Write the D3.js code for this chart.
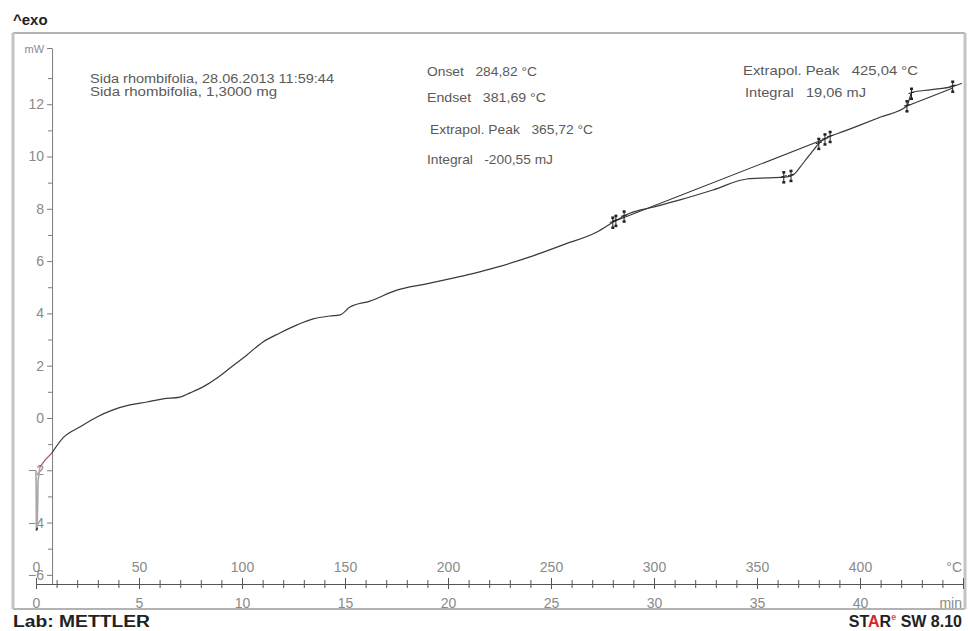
<!DOCTYPE html>
<html>
<head>
<meta charset="utf-8">
<script src="https://cdn.jsdelivr.net/npm/d3@7/dist/d3.min.js"></script>
<style>
  html, body { margin: 0; padding: 0; background: #fff; }
  svg { display: block; font-family: "Liberation Sans", Arial, sans-serif; }
  svg text { white-space: pre; }
</style>
</head>
<body>
<svg id="chart" width="968" height="631"></svg>
<script>
// DSC heat-flow curve (exo up), time in min, heat flow in mW
const timeMin = [0.76, 1.31, 2.14, 2.96, 3.74, 4.56, 5.39, 6.17, 6.99, 7.48, 8.11, 8.79, 9.42,
  10.24, 11.02, 11.84, 12.67, 13.45, 14.27, 14.76, 15.24, 16.21, 17.52, 18.9, 20.24, 21.3,
  22.38, 23.98, 25.58, 27.23, 28.11, 28.83, 30.0, 31.26, 32.86, 34.51, 35.49, 36.46, 36.75,
  37.1, 37.43, 37.75, 38.06, 38.4, 39.2, 40.0, 41.0, 42.28, 42.4, 42.52, 43.4, 44.51, 44.95];
const powerMW = [-1.35, -0.76, -0.34, 0.04, 0.31, 0.50, 0.61, 0.73, 0.80, 0.96, 1.19, 1.53, 1.91,
  2.41, 2.91, 3.25, 3.56, 3.79, 3.90, 3.94, 4.24, 4.47, 4.89, 5.12, 5.35, 5.54,
  5.77, 6.16, 6.62, 7.11, 7.53, 7.83, 8.07, 8.34, 8.72, 9.14, 9.18, 9.22, 9.29,
  9.60, 9.94, 10.25, 10.55, 10.71, 10.96, 11.20, 11.51, 11.93, 12.20, 12.45, 12.55, 12.68, 12.80];

// start-up transient at the beginning of the run
const startTime = [0, 0.02, 0.06, 0.1, 0.19, 0.45, 0.76];
const startPower = [-2.0, -4.3, -4.2, -2.4, -1.87, -1.6, -1.35];

// integration baselines of the two evaluated effects
const baseline1Time = [28.11, 38.16];
const baseline1Power = [7.53, 10.63];
const baseline2Time = [42.28, 44.51];
const baseline2Power = [11.93, 12.62];

// evaluation limit markers (min)
const markerTimes = [28.0, 28.15, 28.55, 36.3, 36.65, 38.0, 38.3, 38.55, 42.28, 42.5, 44.5];

// axis ticks
const yTicks = [-6, -5, -4, -3, -2, -1, 0, 1, 2, 3, 4, 5, 6, 7, 8, 9, 10, 11, 12, 13];
const yLabelTicks = [-6, -4, -2, 0, 2, 4, 6, 8, 10, 12];
const yUnit = "mW";
const tempTicks = d3.range(0, 451, 10);
const tempLabels = [0, 50, 100, 150, 200, 250, 300, 350, 400];
const tempUnit = "°C";
const timeTicks = d3.range(0, 46, 1);
const timeLabels = [0, 5, 10, 15, 20, 25, 30, 35, 40];
const timeUnit = "min";
const heatingRate = 10; // K/min, temperature axis = heatingRate * time

// evaluation texts
const sampleLines = ["Sida rhombifolia, 28.06.2013 11:59:44", "Sida rhombifolia, 1,3000 mg"];
const effect1Lines = ["Onset   284,82 °C", "Endset   381,69 °C", "Extrapol. Peak   365,72 °C", "Integral   -200,55 mJ"];
const effect2Lines = ["Extrapol. Peak   425,04 °C", "Integral   19,06 mJ"];

const svg = d3.select("#chart");

const x = d3.scaleLinear().domain([0, 45]).range([36, 963]);
const xTemp = d3.scaleLinear().domain([0, 45 * heatingRate]).range([36, 963]);
const y = d3.scaleLinear().domain([-6.35, 14.15]).range([584, 48]);
const axisY0 = y.domain()[0];
const axisX0 = x(0.78);

// frame
svg.append("line").attr("x1", 13).attr("x2", 965).attr("y1", 33).attr("y2", 33)
  .attr("stroke", "#9a9a9a").attr("stroke-width", 1.5);
svg.append("line").attr("x1", 13).attr("x2", 965).attr("y1", 609).attr("y2", 609)
  .attr("stroke", "#9a9a9a").attr("stroke-width", 1.5);
svg.append("line").attr("x1", 13).attr("x2", 13).attr("y1", 33).attr("y2", 609)
  .attr("stroke", "#c4c4c4").attr("stroke-width", 3);
svg.append("line").attr("x1", 965).attr("x2", 965).attr("y1", 33).attr("y2", 609)
  .attr("stroke", "#c4c4c4").attr("stroke-width", 3);

// header / footer
svg.append("text").attr("x", 13).attr("y", 25).attr("font-size", 15).attr("font-weight", "bold")
  .attr("fill", "#222").text("^exo");
svg.append("text").attr("x", 13).attr("y", 627).attr("font-size", 16).attr("font-weight", "bold")
  .attr("fill", "#222").attr("textLength", 137).attr("lengthAdjust", "spacingAndGlyphs")
  .text("Lab: METTLER");
const star = svg.append("text").attr("x", 962).attr("y", 627).attr("text-anchor", "end")
  .attr("font-size", 16).attr("font-weight", "bold").attr("fill", "#222");
star.append("tspan").text("ST");
star.append("tspan").attr("fill", "#d8232a").text("A");
star.append("tspan").text("R");
star.append("tspan").attr("fill", "#e0505a").attr("font-size", 9).attr("dy", -7).text("e");
star.append("tspan").attr("dy", 7).text(" SW 8.10");

// y axis
const yAxis = d3.axisLeft(y)
  .tickValues(yTicks.concat([y.domain()[1]]))
  .tickSize(5).tickSizeOuter(0).tickPadding(3)
  .tickFormat(d => d === y.domain()[1] ? yUnit : (yLabelTicks.includes(d) ? d3.format("d")(d) : ""));
const gy = svg.append("g").attr("transform", `translate(${axisX0},0)`).call(yAxis);
gy.select(".domain").attr("stroke", "#7c7c7c");
gy.selectAll(".tick line").attr("stroke", "#7c7c7c")
  .attr("x2", d => (yLabelTicks.includes(d) || d === y.domain()[1]) ? -5 : -4);
gy.selectAll(".tick text").attr("fill", "#8a8a8a").attr("font-size", 14)
  .attr("font-family", "Liberation Sans, Arial, sans-serif");
gy.selectAll(".tick").filter(d => d === y.domain()[1]).select("text")
  .attr("font-size", 11).attr("dy", "0.45em");

// x axis: temperature above, time below, ticks crossing the line
const axisYpos = y(axisY0);
const tAxis = d3.axisTop(xTemp).tickValues(tempTicks).tickSize(4).tickSizeOuter(0).tickPadding(8)
  .tickFormat(d => d === 450 ? "" : (tempLabels.includes(d) ? d : ""));
const gt = svg.append("g").attr("transform", `translate(0,${axisYpos})`).call(tAxis);
gt.select(".domain").attr("stroke", "#555").attr("stroke-width", 1.2);
gt.selectAll(".tick line").attr("stroke", "#555").attr("y2", d => d % 50 === 0 ? -6 : -4);
gt.selectAll(".tick text").attr("fill", "#8a8a8a").attr("font-size", 14)
  .attr("font-family", "Liberation Sans, Arial, sans-serif").attr("y", -12);
gt.append("text").attr("x", 962).attr("y", -12).attr("text-anchor", "end")
  .attr("fill", "#8a8a8a").attr("font-size", 14).text(tempUnit);

const mAxis = d3.axisBottom(x).tickValues(timeTicks).tickSize(4).tickSizeOuter(0).tickPadding(10)
  .tickFormat(d => timeLabels.includes(d) ? d : "");
const gm = svg.append("g").attr("transform", `translate(0,${axisYpos})`).call(mAxis);
gm.select(".domain").remove();
gm.selectAll(".tick line").attr("stroke", "#555").attr("y2", d => d % 5 === 0 ? 5 : 4);
gm.selectAll(".tick text").attr("fill", "#8a8a8a").attr("font-size", 14)
  .attr("font-family", "Liberation Sans, Arial, sans-serif").attr("y", 14);
gm.append("text").attr("x", 962).attr("y", 24).attr("text-anchor", "end")
  .attr("fill", "#8a8a8a").attr("font-size", 14).text(timeUnit);

// texts
const textColor = "#5a5a5a";
svg.append("g").selectAll("text").data(sampleLines).join("text")
  .attr("x", 90).attr("y", (d, i) => 83 + i * 13)
  .attr("font-size", 12).attr("fill", textColor)
  .attr("textLength", (d, i) => i === 0 ? 244 : 187).attr("lengthAdjust", "spacingAndGlyphs")
  .text(d => d);
const e1y = [76, 102, 134, 164], e1x = [427, 427, 430, 427], e1w = [110, 119, 163, 126];
svg.append("g").selectAll("text").data(effect1Lines).join("text")
  .attr("x", (d, i) => e1x[i]).attr("y", (d, i) => e1y[i])
  .attr("font-size", 13).attr("fill", textColor)
  .attr("textLength", (d, i) => e1w[i]).attr("lengthAdjust", "spacingAndGlyphs")
  .text(d => d);
const e2y = [75, 97], e2x = [743, 745], e2w = [175, 121];
svg.append("g").selectAll("text").data(effect2Lines).join("text")
  .attr("x", (d, i) => e2x[i]).attr("y", (d, i) => e2y[i])
  .attr("font-size", 13).attr("fill", textColor)
  .attr("textLength", (d, i) => e2w[i]).attr("lengthAdjust", "spacingAndGlyphs")
  .text(d => d);

// curves
const line = d3.line().x(d => x(d[0])).y(d => y(d[1]));
const mainPts = timeMin.map((t, i) => [t, powerMW[i]]);
const startPts = startTime.map((t, i) => [t, startPower[i]]);

svg.append("path").datum(startPts.slice(0, 5)).attr("d", line)
  .attr("fill", "none").attr("stroke", "#a8a8a8").attr("stroke-width", 1.6);
svg.append("path").datum(startPts.slice(1, 3)).attr("d", line)
  .attr("fill", "none").attr("stroke", "#333").attr("stroke-width", 1.6);
svg.append("path").datum(startPts.slice(4)).attr("d", line)
  .attr("fill", "none").attr("stroke", "#b45a5a").attr("stroke-width", 1.3);

svg.append("path").datum(baseline1Time.map((t, i) => [t, baseline1Power[i]])).attr("d", line)
  .attr("fill", "none").attr("stroke", "#333").attr("stroke-width", 1.1);
svg.append("path").datum(baseline2Time.map((t, i) => [t, baseline2Power[i]])).attr("d", line)
  .attr("fill", "none").attr("stroke", "#333").attr("stroke-width", 1.1);

svg.append("path").datum(mainPts).attr("d", line.curve(d3.curveMonotoneX))
  .attr("fill", "none").attr("stroke", "#3a3a3a").attr("stroke-width", 1.2);

// limit markers on the curve
const interp = t => {
  const i = d3.bisector(d => d[0]).left(mainPts, t);
  const a = mainPts[Math.max(0, i - 1)], b = mainPts[Math.min(mainPts.length - 1, i)];
  if (a[0] === b[0]) return a[1];
  return a[1] + (b[1] - a[1]) * (t - a[0]) / (b[0] - a[0]);
};
const mk = svg.append("g").selectAll("g").data(markerTimes).join("g")
  .attr("transform", t => `translate(${x(t)},${y(interp(t))})`);
mk.append("line").attr("x1", 0).attr("x2", 0).attr("y1", -5).attr("y2", 5)
  .attr("stroke", "#222").attr("stroke-width", 1);
mk.append("rect").attr("x", -1.5).attr("y", -6).attr("width", 3).attr("height", 2.5).attr("fill", "#222");
mk.append("rect").attr("x", -1.5).attr("y", 4).attr("width", 3).attr("height", 2.5).attr("fill", "#222");
mk.append("line").attr("x1", -3).attr("x2", 3).attr("y1", 0).attr("y2", -1.5)
  .attr("stroke", "#222").attr("stroke-width", 1);
</script>
</body>
</html>
